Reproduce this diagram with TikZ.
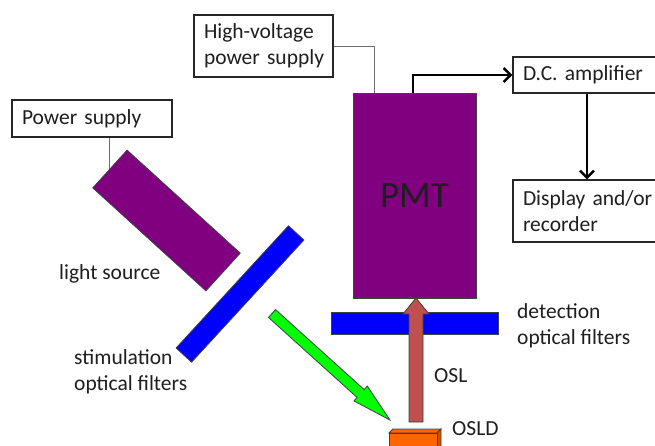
\documentclass[tikz,border=0pt]{standalone}
\usepackage{fontspec}
\setmainfont{Carlito}
\usetikzlibrary{arrows.meta}
\definecolor{pmtpurple}{RGB}{128,0,128}
\definecolor{filterblue}{RGB}{0,0,255}
\definecolor{lightgreen}{RGB}{0,255,0}
\definecolor{oslred}{RGB}{192,80,77}
\definecolor{osldorange}{RGB}{255,102,0}
\definecolor{osldside}{RGB}{200,78,0}
\definecolor{textgray}{RGB}{30,30,30}
\definecolor{thinline}{RGB}{110,110,110}
\begin{document}
\begin{tikzpicture}[x=1pt,y=-1pt,
  lbl/.style={font=\fontsize{21.5}{26}\selectfont, text=textgray, inner sep=0pt},
  box/.style={draw=black!85, line width=1.4pt, font=\fontsize{21.5}{26}\selectfont, text=textgray,
    inner xsep=10pt, inner ysep=0pt, align=left},
  part/.style={draw=black!75, line width=0.8pt, inner sep=0pt},
  conn/.style={draw=black, line width=2.4pt, -{Straight Barb[length=7pt,width=14pt]}},
  wire/.style={draw=thinline, line width=0.8pt}
]
\useasboundingbox (0,0) rectangle (655,446);
\clip (0,0) rectangle (655,446);

% light source and stimulation filter
\node[part, fill=pmtpurple, minimum width=153pt, minimum height=51pt, rotate=-42.3] (ls) at (166.5,220.5) {};
\node[part, fill=filterblue, minimum width=166pt, minimum height=21pt, rotate=47.4] (sf) at (240,294) {};

% green stimulation light arrow
\begin{scope}[shift={(272,313.5)}, rotate=-42.07]
  \draw[part, fill=lightgreen] (0,5.3) -- (119.4,5.3) -- (119.4,10) -- (159,0) -- (119.4,-10) -- (119.4,-5.3) -- (0,-5.3) -- cycle;
\end{scope}

% PMT and detection filter
\node[part, fill=pmtpurple, minimum width=123pt, minimum height=205pt,
  font=\fontsize{37}{40}\selectfont, text=textgray] (pmt) at (414.5,195.5) {PMT};
\node[part, fill=filterblue, minimum width=167pt, minimum height=22pt] (df) at (414.5,323) {};

% OSL arrow
\draw[part, fill=oslred] (409,422) -- (409,314) -- (403,314) -- (416,298) -- (429,314) -- (423,314) -- (423,422) -- cycle;

% OSLD
\draw[part, fill=osldorange] (389,433) -- (393,429) -- (441,429) -- (437,433) -- cycle;
\draw[part, fill=osldside] (437,433) -- (441,429) -- (441,450) -- (437,450) -- cycle;
\draw[part, fill=osldorange] (389,433) rectangle (437,450);

% boxes
\node[box, text width=140pt, minimum width=160pt, minimum height=37pt] (ps) at (92,118.5) {\mbox{Power supply}};
\node[box, text width=119pt, minimum width=139pt, minimum height=62pt] (hv) at (263.5,46) {\mbox{High-voltage}\\\mbox{power supply}};
\node[box, text width=128pt, minimum width=148pt, minimum height=36pt] (dc) at (587,75) {\mbox{D.C. amplifier}};
\node[box, text width=128pt, minimum width=148pt, minimum height=62pt] (disp) at (587,211) {\mbox{Display and/or}\\\mbox{recorder}};

% wires
\draw[wire] (ls.west |- ps.south) -- (ls.west);
\draw[wire] (hv.east) -| ([xshift=22pt]pmt.north west);

% signal arrows
\draw[conn] ([xshift=-1.5pt]pmt.north) |- (dc.west);
\draw[conn] (dc.south) -- (disp.north);

% labels
\node[lbl, anchor=west] (lslabel) at (59,274) {light source};
\node[lbl, anchor=west, align=left] (stlabel) at (74,372) {stimulation\\optical filters};
\node[lbl, anchor=west, align=left] (dtlabel) at (517,326) {detection\\optical filters};
\node[lbl, anchor=west] (osllabel) at (434,376) {OSL};
\node[lbl, anchor=west] (osldlabel) at (452,429) {OSLD};
\end{tikzpicture}
\end{document}
